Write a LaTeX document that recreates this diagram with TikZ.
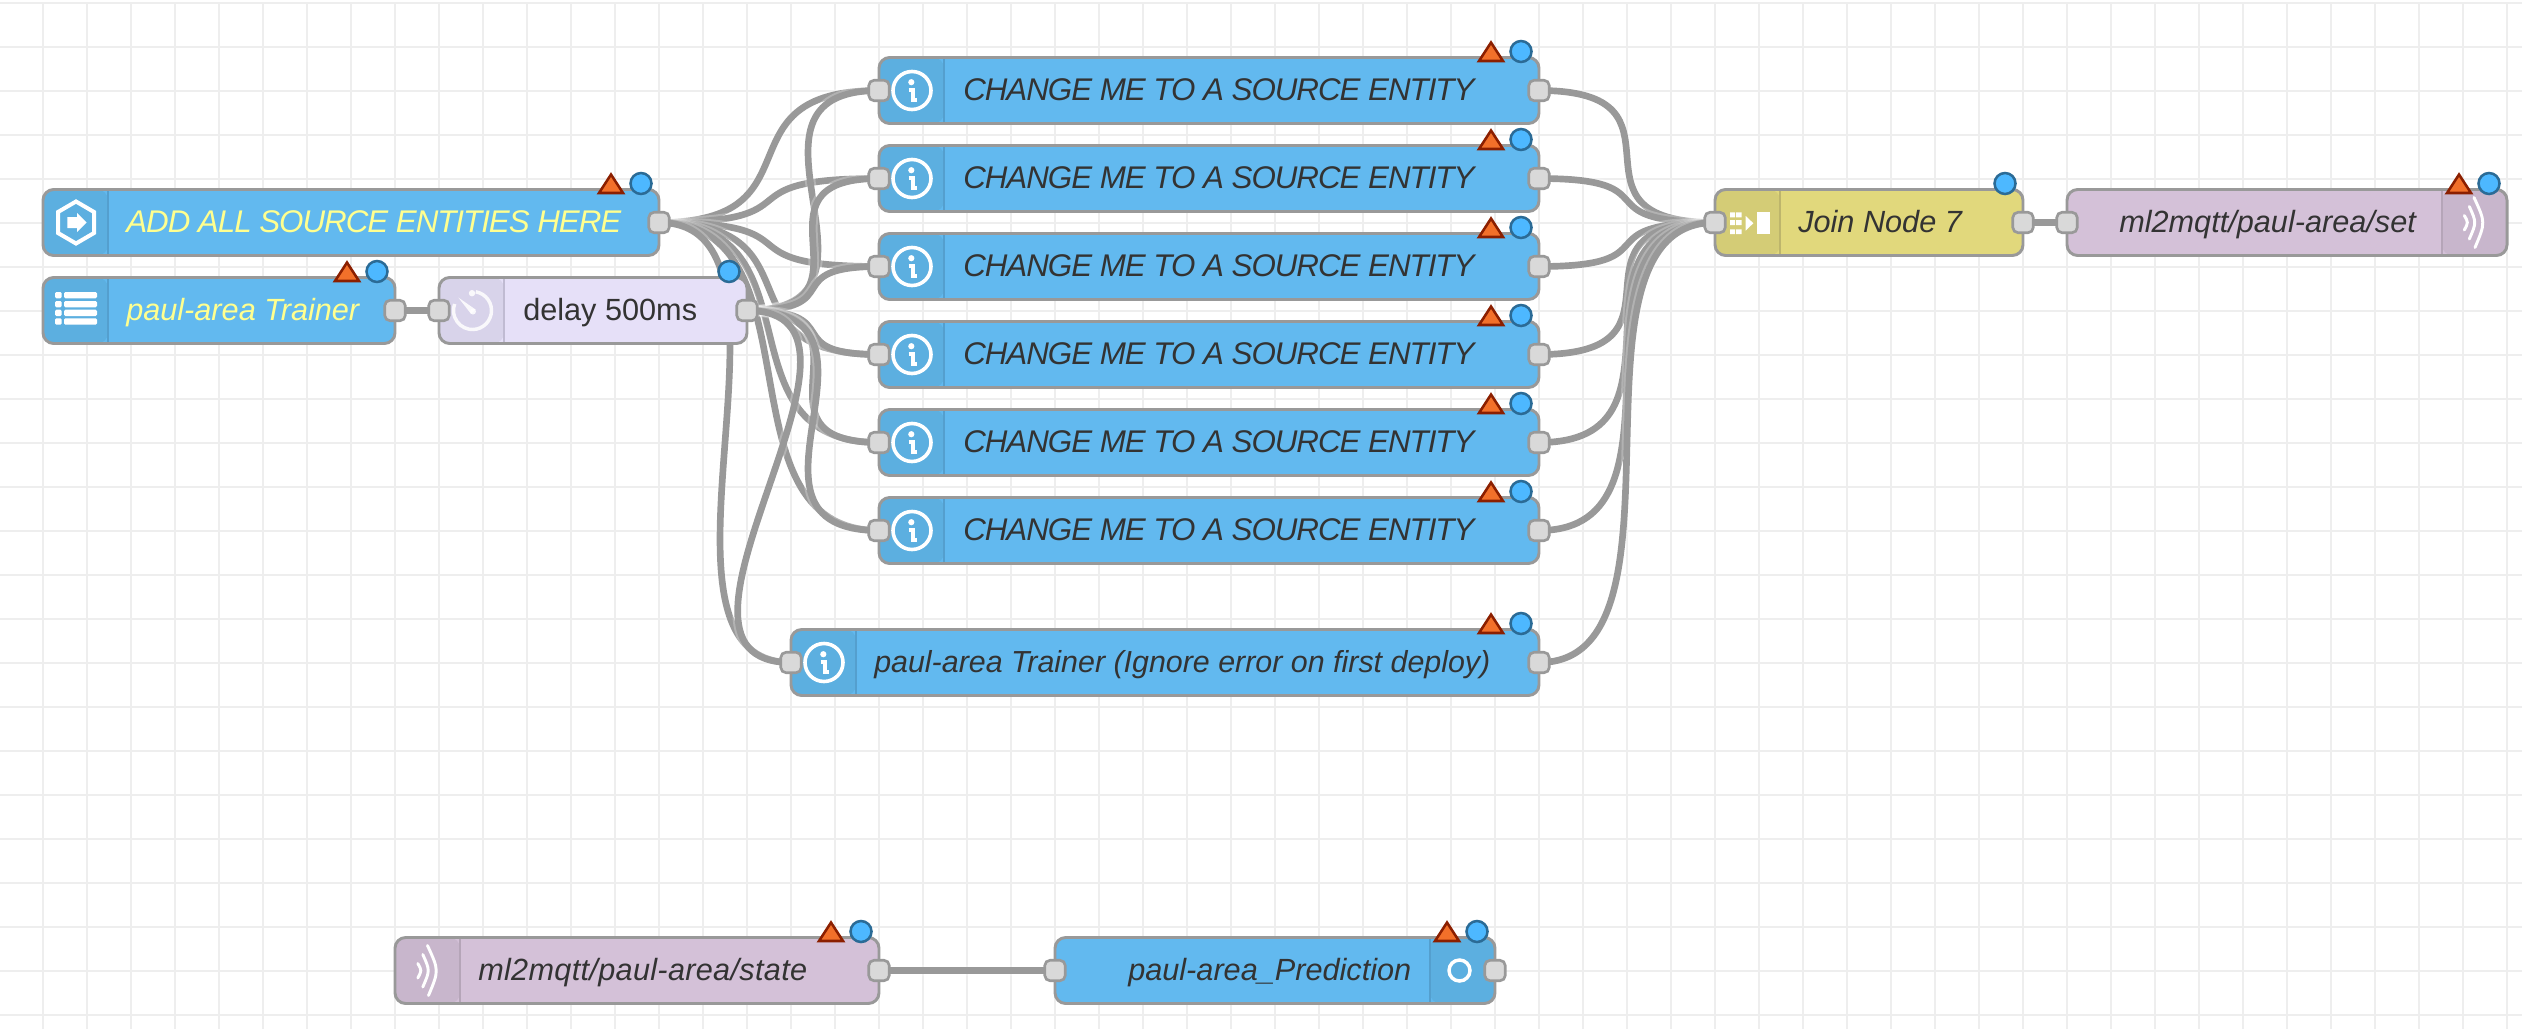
\documentclass[tikz,border=0pt]{standalone}
\usepackage{fontspec}
\setmainfont{Liberation Sans}
\usetikzlibrary{backgrounds}

\definecolor{gridgrey}{HTML}{EEEEEE}
\definecolor{edgegrey}{HTML}{999999}
\definecolor{portgrey}{HTML}{D9D9D9}
\definecolor{textdark}{HTML}{333333}
\definecolor{textyellow}{HTML}{FFFF8F}
\definecolor{nodeblue}{HTML}{62B9EF}
\definecolor{tabblue}{HTML}{5CAFE0}
\definecolor{lineblue}{HTML}{549FCE}
\definecolor{nodelilac}{HTML}{E6E0F8}
\definecolor{tablilac}{HTML}{D8D3EA}
\definecolor{linelilac}{HTML}{C0BBD2}
\definecolor{nodeyellow}{HTML}{E1D87C}
\definecolor{tabyellow}{HTML}{D4CC76}
\definecolor{lineyellow}{HTML}{BDB56C}
\definecolor{nodepurple}{HTML}{D4C1D8}
\definecolor{tabpurple}{HTML}{C8B6CC}
\definecolor{linepurple}{HTML}{B5A5B8}
\definecolor{warnfill}{HTML}{F2702A}
\definecolor{warnedge}{HTML}{8B1F00}
\definecolor{dotfill}{HTML}{4DB8FF}
\definecolor{dotedge}{HTML}{2B6B96}

\tikzset{
  every pic/.style={yscale=-1},
  flowbox/.style={draw=edgegrey, line width=2.2pt, rounded corners=8pt, inner sep=0pt, outer sep=0pt, minimum height=66*0.75pt},
  tableft/.style 2 args={path picture={
    \fill [#1] (path picture bounding box.north west) rectangle ([xshift=48.75pt]path picture bounding box.south west);
    \draw [#2, line width=1.5pt] ([xshift=48.75pt]path picture bounding box.north west) -- ([xshift=48.75pt]path picture bounding box.south west);}},
  tabright/.style 2 args={path picture={
    \fill [#1] (path picture bounding box.north east) rectangle ([xshift=-48.75pt]path picture bounding box.south east);
    \draw [#2, line width=1.5pt] ([xshift=-48.75pt]path picture bounding box.north east) -- ([xshift=-48.75pt]path picture bounding box.south east);}},
  port/.style={draw=edgegrey, fill=portgrey, line width=2pt, rounded corners=4pt, inner sep=0pt, outer sep=0pt, minimum width=20.5*0.75pt, minimum height=20.5*0.75pt},
  wire/.style={draw=edgegrey, line width=5pt, preaction={draw=white, draw opacity=0.25, line width=8pt}},
  labeltext/.style={font=\fontsize{23}{27}\selectfont\itshape, text=textdark, inner sep=0pt, anchor=base west},
  capstext/.style={labeltext, font=\fontsize{23.5}{27}\selectfont\itshape\addfontfeature{LetterSpace=-3.3}},
  warnmark/.pic={\draw [fill=warnfill, draw=warnedge, line width=1.9pt, line join=miter] (-60,3.5) -- (-48,-15) -- (-36,3.5) -- cycle;},
  bluedot/.pic={\draw [fill=dotfill, draw=dotedge, line width=1.9pt] (-18,-6) circle [radius=10.5];},
  infoicon/.pic={
    \draw [white, line width=2.7pt] (0,0) circle [radius=19];
    \fill [white] (-0.7,-8.3) circle [radius=3.1];
    \draw [white, line width=2.6pt] (-3.3,-0.6) -- (1,-0.6) -- (1,9.3) -- (5,9.3);},
  hexicon/.pic={
    \draw [white, line width=3pt, line join=miter] (0,-21) -- (18,-10.5) -- (18,10.5) -- (0,21) -- (-18,10.5) -- (-18,-10.5) -- cycle;
    \fill [white] (-8.7,-5.5) -- (1,-5.5) -- (1,-9.5) -- (10.7,0) -- (1,9.5) -- (1,5.5) -- (-8.7,5.5) -- cycle;},
  listicon/.pic={
    \fill [white, rounded corners=1pt] (-21,-18.5) rectangle (-14.3,-12.2) (-12,-18.5) rectangle (21,-12.2);
    \fill [white, rounded corners=1pt] (-21,-9.5) rectangle (-14.3,-3.2) (-12,-9.5) rectangle (21,-3.2);
    \fill [white, rounded corners=1pt] (-21,-0.8) rectangle (-14.3,5.5) (-12,-0.8) rectangle (21,5.5);
    \fill [white, rounded corners=1pt] (-21,7.8) rectangle (-14.3,14.2) (-12,7.8) rectangle (21,14.2);},
  clockicon/.pic={
    \draw [white, opacity=0.85, line width=2.6pt] (3.3,-18.7) arc [start angle=-80, end angle=200, radius=19];
    \fill [white, opacity=0.85] (-0.5,-17.3) circle [radius=3.2];
    \fill [white, opacity=0.85] (-14.2,-13) -- (3,-1) -- (-1.5,3.3) -- cycle;
    \fill [white, opacity=0.85] (0.5,1) circle [radius=3];},
  joinicon/.pic={
    \fill [white] (-17.5,-10.2) rectangle (-12.5,-5.2) (-11.5,-10.2) rectangle (-5.8,-5.2);
    \fill [white] (-17.5,-2.5) rectangle (-12.5,2.5) (-11.5,-2.5) rectangle (-5.8,2.5);
    \fill [white] (-17.5,6.8) rectangle (-12.5,11.5) (-11.5,6.8) rectangle (-5.8,11.5);
    \fill [white] (-1.8,-6.5) -- (5.8,0.7) -- (-1.8,8.2) -- cycle;
    \fill [white] (9.5,-10.5) rectangle (22.5,11.5);},
  waveicon/.pic={
    \draw [white, line width=2.2pt, line cap=round] (-0.5,-25) .. controls (11,0) .. (0.5,25);
    \draw [white, line width=2.2pt, line cap=round] (-5.2,-16) .. controls (2,0) .. (-5.2,16.5);
    \draw [white, line width=2.2pt, line cap=round] (-10.2,-7) .. controls (-6.2,0) .. (-10.2,7.5);},
}

\begin{document}
\begin{tikzpicture}[x=0.75pt,y=0.75pt,yscale=-1,xscale=1]
    \useasboundingbox (0,0) rectangle (2522,1028);
    \clip (0,0) rectangle (2522,1028);

    %Shape: Grid
    \begin{scope}[on background layer]
    \draw [gridgrey, line width=1.65pt, shift={(-1,3)}, step=44] (0,0) grid (2570,1060);
    \end{scope}

    %Shape: Rectangle
    \node (source) [flowbox, fill=nodeblue, minimum width=616*0.75pt, tableft={tabblue}{lineblue}] at (351,222.5) {};
    %Shape: Rectangle
    \node (trainer) [flowbox, fill=nodeblue, minimum width=352*0.75pt, tableft={tabblue}{lineblue}] at (219,310.5) {};
    %Shape: Rectangle
    \node (delay) [flowbox, fill=nodelilac, minimum width=308*0.75pt, tableft={tablilac}{linelilac}] at (593,310.5) {};

    %Shape: Rectangle
    \node (entity1) [flowbox, fill=nodeblue, minimum width=660*0.75pt, tableft={tabblue}{lineblue}] at (1209,90.5) {};
    %Shape: Rectangle
    \node (entity2) [flowbox, fill=nodeblue, minimum width=660*0.75pt, tableft={tabblue}{lineblue}] at (1209,178.5) {};
    %Shape: Rectangle
    \node (entity3) [flowbox, fill=nodeblue, minimum width=660*0.75pt, tableft={tabblue}{lineblue}] at (1209,266.5) {};
    %Shape: Rectangle
    \node (entity4) [flowbox, fill=nodeblue, minimum width=660*0.75pt, tableft={tabblue}{lineblue}] at (1209,354.5) {};
    %Shape: Rectangle
    \node (entity5) [flowbox, fill=nodeblue, minimum width=660*0.75pt, tableft={tabblue}{lineblue}] at (1209,442.5) {};
    %Shape: Rectangle
    \node (entity6) [flowbox, fill=nodeblue, minimum width=660*0.75pt, tableft={tabblue}{lineblue}] at (1209,530.5) {};
    %Shape: Rectangle
    \node (ignore) [flowbox, fill=nodeblue, minimum width=748*0.75pt, tableft={tabblue}{lineblue}] at (1165,662.5) {};

    %Shape: Rectangle
    \node (joinbox) [flowbox, fill=nodeyellow, minimum width=308*0.75pt, tableft={tabyellow}{lineyellow}] at (1869,222.5) {};
    %Shape: Rectangle
    \node (mqttset) [flowbox, fill=nodepurple, minimum width=440*0.75pt, tabright={tabpurple}{linepurple}] at (2287,222.5) {};
    %Shape: Rectangle
    \node (mqttstate) [flowbox, fill=nodepurple, minimum width=484*0.75pt, tableft={tabpurple}{linepurple}] at (637,970.5) {};
    %Shape: Rectangle
    \node (prediction) [flowbox, fill=nodeblue, minimum width=440*0.75pt, tabright={tabblue}{lineblue}] at (1275,970.5) {};

    % Ports
    \node (sourceout) [port] at (source.east) {};
    \node (trainerout) [port] at (trainer.east) {};
    \node (delayin) [port] at (delay.west) {};
    \node (delayout) [port] at (delay.east) {};
    \node (entity1in) [port] at (entity1.west) {};
    \node (entity1out) [port] at (entity1.east) {};
    \node (entity2in) [port] at (entity2.west) {};
    \node (entity2out) [port] at (entity2.east) {};
    \node (entity3in) [port] at (entity3.west) {};
    \node (entity3out) [port] at (entity3.east) {};
    \node (entity4in) [port] at (entity4.west) {};
    \node (entity4out) [port] at (entity4.east) {};
    \node (entity5in) [port] at (entity5.west) {};
    \node (entity5out) [port] at (entity5.east) {};
    \node (entity6in) [port] at (entity6.west) {};
    \node (entity6out) [port] at (entity6.east) {};
    \node (ignorein) [port] at (ignore.west) {};
    \node (ignoreout) [port] at (ignore.east) {};
    \node (joinin) [port] at (joinbox.west) {};
    \node (joinout) [port] at (joinbox.east) {};
    \node (mqttsetin) [port] at (mqttset.west) {};
    \node (mqttstateout) [port] at (mqttstate.east) {};
    \node (predictionin) [port] at (prediction.west) {};
    \node (predictionout) [port] at (prediction.east) {};

    % Wires
    \begin{scope}[on background layer]
    \draw [wire] (sourceout.center) .. controls +(165,0) and +(-165,0) .. (entity1in.center);
    \draw [wire] (sourceout.center) .. controls +(165,0) and +(-165,0) .. (entity2in.center);
    \draw [wire] (sourceout.center) .. controls +(165,0) and +(-165,0) .. (entity3in.center);
    \draw [wire] (sourceout.center) .. controls +(165,0) and +(-165,0) .. (entity4in.center);
    \draw [wire] (sourceout.center) .. controls +(165,0) and +(-165,0) .. (entity5in.center);
    \draw [wire] (sourceout.center) .. controls +(165,0) and +(-165,0) .. (entity6in.center);
    \draw [wire] (sourceout.center) .. controls +(165,0) and +(-165,0) .. (ignorein.center);
    \draw [wire] (delayout.center) .. controls +(165,0) and +(-165,0) .. (entity1in.center);
    \draw [wire] (delayout.center) .. controls +(140,0) and +(-140,0) .. (entity2in.center);
    \draw [wire] (delayout.center) .. controls +(104,0) and +(-104,0) .. (entity3in.center);
    \draw [wire] (delayout.center) .. controls +(104,0) and +(-104,0) .. (entity4in.center);
    \draw [wire] (delayout.center) .. controls +(140,0) and +(-140,0) .. (entity5in.center);
    \draw [wire] (delayout.center) .. controls +(165,0) and +(-165,0) .. (entity6in.center);
    \draw [wire] (delayout.center) .. controls +(165,0) and +(-165,0) .. (ignorein.center);
    \draw [wire] (entity1out.center) .. controls +(165,0) and +(-165,0) .. (joinin.center);
    \draw [wire] (entity2out.center) .. controls +(136,0) and +(-136,0) .. (joinin.center);
    \draw [wire] (entity3out.center) .. controls +(136,0) and +(-136,0) .. (joinin.center);
    \draw [wire] (entity4out.center) .. controls +(165,0) and +(-165,0) .. (joinin.center);
    \draw [wire] (entity5out.center) .. controls +(165,0) and +(-165,0) .. (joinin.center);
    \draw [wire] (entity6out.center) .. controls +(165,0) and +(-165,0) .. (joinin.center);
    \draw [wire] (ignoreout.center) .. controls +(165,0) and +(-165,0) .. (joinin.center);
    \draw [wire] (trainerout.center) -- (delayin.center);
    \draw [wire] (joinout.center) -- (mqttsetin.center);
    \draw [wire] (mqttstateout.center) -- (predictionin.center);
    \end{scope}

    % Icons
    \pic at (76,222.5) {hexicon};
    \pic at (76,310.5) {listicon};
    \pic at (472.5,310.5) {clockicon};
    \pic at (912,90.5) {infoicon};
    \pic at (912,178.5) {infoicon};
    \pic at (912,266.5) {infoicon};
    \pic at (912,354.5) {infoicon};
    \pic at (912,442.5) {infoicon};
    \pic at (912,530.5) {infoicon};
    \pic at (824,662.5) {infoicon};
    \pic at (1747.5,222.5) {joinicon};
    \pic at (2474.5,222.5) {waveicon};
    \pic at (428,970.5) {waveicon};
    \draw [white, line width=2.6pt] (1459.5,970.5) circle [radius=10.5];

    % Badges
    \pic at (source.north east) {warnmark};
    \pic at (source.north east) {bluedot};
    \pic at (trainer.north east) {warnmark};
    \pic at (trainer.north east) {bluedot};
    \pic at (delay.north east) {bluedot};
    \pic at (entity1.north east) {warnmark};
    \pic at (entity1.north east) {bluedot};
    \pic at (entity2.north east) {warnmark};
    \pic at (entity2.north east) {bluedot};
    \pic at (entity3.north east) {warnmark};
    \pic at (entity3.north east) {bluedot};
    \pic at (entity4.north east) {warnmark};
    \pic at (entity4.north east) {bluedot};
    \pic at (entity5.north east) {warnmark};
    \pic at (entity5.north east) {bluedot};
    \pic at (entity6.north east) {warnmark};
    \pic at (entity6.north east) {bluedot};
    \pic at (ignore.north east) {warnmark};
    \pic at (ignore.north east) {bluedot};
    \pic at (joinbox.north east) {bluedot};
    \pic at (mqttset.north east) {warnmark};
    \pic at (mqttset.north east) {bluedot};
    \pic at (mqttstate.north east) {warnmark};
    \pic at (mqttstate.north east) {bluedot};
    \pic at (prediction.north east) {warnmark};
    \pic at (prediction.north east) {bluedot};

    % Text Node
    \node (sourcetext) [capstext, text=textyellow] at (126,232.5) {ADD ALL SOURCE ENTITIES HERE};
    % Text Node
    \node (trainertext) [labeltext, text=textyellow] at (126,320.5) {paul-area Trainer};
    % Text Node
    \node (delaytext) [labeltext, font=\fontsize{23}{27}\selectfont] at (523,320.5) {delay 500ms};
    % Text Node
    \node (entity1text) [capstext] at (963,100.5) {CHANGE ME TO A SOURCE ENTITY};
    % Text Node
    \node (entity2text) [capstext] at (963,188.5) {CHANGE ME TO A SOURCE ENTITY};
    % Text Node
    \node (entity3text) [capstext] at (963,276.5) {CHANGE ME TO A SOURCE ENTITY};
    % Text Node
    \node (entity4text) [capstext] at (963,364.5) {CHANGE ME TO A SOURCE ENTITY};
    % Text Node
    \node (entity5text) [capstext] at (963,452.5) {CHANGE ME TO A SOURCE ENTITY};
    % Text Node
    \node (entity6text) [capstext] at (963,540.5) {CHANGE ME TO A SOURCE ENTITY};
    % Text Node
    \node (ignoretext) [labeltext, font=\fontsize{22.8}{27}\selectfont\itshape] at (874,672.5) {paul-area Trainer (Ignore error on first deploy)};
    % Text Node
    \node (jointext) [labeltext] at (1798,232.5) {Join Node 7};
    % Text Node
    \node (mqttsettext) [labeltext] at (2119,232.5) {ml2mqtt/paul-area/set};
    % Text Node
    \node (mqttstatetext) [labeltext, font=\fontsize{23}{27}\selectfont\itshape\addfontfeature{LetterSpace=1}] at (478,980.5) {ml2mqtt/paul-area/state};
    % Text Node
    \node (predictiontext) [labeltext] at (1128,980.5) {paul-area\_Prediction};

\end{tikzpicture}
\end{document}
